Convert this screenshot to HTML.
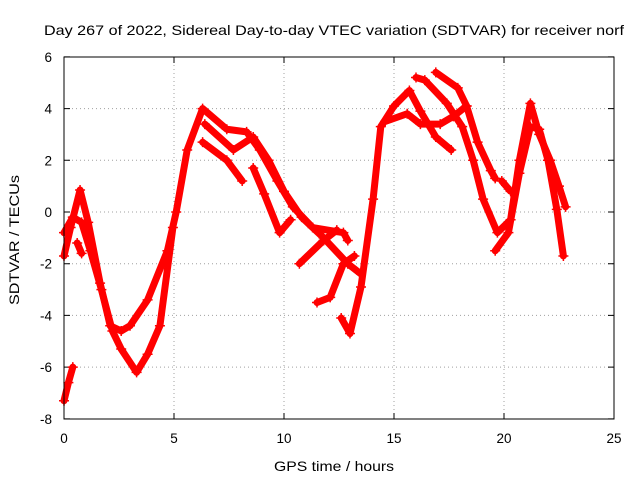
<!DOCTYPE html>
<html><head><meta charset="utf-8"><style>
body{margin:0;background:#fff;}
svg{display:block;font-family:"Liberation Sans",sans-serif;}
</style></head><body>
<svg id="chart" width="640" height="480" viewBox="0 0 640 480">
<text x="334" y="35" font-size="14" text-anchor="middle" textLength="580" lengthAdjust="spacingAndGlyphs">Day 267 of 2022, Sidereal Day-to-day VTEC variation (SDTVAR) for receiver norf</text>
<text x="334" y="471" font-size="14" text-anchor="middle" textLength="120" lengthAdjust="spacingAndGlyphs">GPS time / hours</text>
<text transform="translate(19,240) rotate(-90)" font-size="14" text-anchor="middle" textLength="130" lengthAdjust="spacingAndGlyphs">SDTVAR / TECUs</text>
<g id="grid"></g>
<g id="series"></g>
<rect x="64" y="57" width="550" height="362" fill="none" stroke="#000" stroke-width="1"/>
</svg>
<script>
const xTicks=[0,5,10,15,20,25];
const yTicks=[-8,-6,-4,-2,0,2,4,6];
const arcA=[[0,-1.7],[0.3,-0.6],[0.73,0.85],[1.1,-0.4],[1.64,-2.75],[2.1,-4.4],[2.6,-4.6],[3,-4.4],[3.8,-3.4],[4.7,-1.5],[5.1,0],[5.6,2.4],[6.3,4.0],[7.4,3.2],[8.3,3.1],[8.9,2.4],[9.7,1.2],[10.4,0.2],[11.3,-0.6],[12.7,-0.8],[12.9,-1.1]];
const arcB=[[0,-0.8],[0.4,-0.2],[0.8,-0.4],[1.2,-1.5],[1.7,-3],[2.2,-4.6],[2.6,-5.3],[3.3,-6.2],[3.8,-5.5],[4.36,-4.4],[4.95,-0.6]];
const arcT=[[0.6,-1.2],[0.8,-1.6]];
const arcC=[[0,-7.3],[0.2,-6.6],[0.4,-6]];
const arcD=[[6.3,2.7],[7.4,2.0],[8.1,1.2]];
const arcE=[[6.4,3.4],[7.7,2.4],[8.6,2.9],[9.3,2],[10,0.8],[10.8,-0.2],[11.8,-1],[12.9,-2],[13.5,-2.4]];
const arcF=[[8.6,1.7],[9.1,0.7],[9.8,-0.8],[10.3,-0.3]];
const arcG=[[10.7,-2],[11.8,-1.1],[12.4,-0.7]];
const arcH=[[11.5,-3.5],[12.1,-3.3],[12.7,-2],[13.2,-1.7]];
const arcI=[[12.6,-4.1],[13,-4.7],[13.5,-2.9],[14.05,0.5],[14.4,3.3],[15,4.1],[15.7,4.7],[16.2,3.9],[16.9,2.9],[17.6,2.4]];
const arcJ=[[14.6,3.5],[15.6,3.8],[16.2,3.4],[17.1,3.4],[17.7,3.7],[18.3,4.1]];
const arcK=[[16,5.2],[16.4,5.1],[17.4,4.2],[18.1,3.3],[18.6,2],[19.05,0.5],[19.7,-0.8],[20.3,-0.3],[20.7,2],[21.2,4.2],[21.6,3.0],[22.1,2],[22.5,1],[22.8,0.2]];
const arcL=[[16.9,5.4],[17.9,4.8],[18.3,4.1],[18.8,2.7],[19.4,1.6],[19.6,1.3]];
const arcM=[[19.6,-1.5],[20.2,-0.8],[20.7,1.5],[21.2,3.3],[21.6,3.2],[22,2],[22.4,0.1],[22.7,-1.7]];
const arcN=[[19.9,1.2],[20.3,0.8]];
const arcs=[arcA,arcB,arcT,arcC,arcD,arcE,arcF,arcG,arcH,arcI,arcJ,arcK,arcL,arcM,arcN];
const X=v=>64+v*22, Y=v=>212-v*(362/14);
const NS="http://www.w3.org/2000/svg";
const grid=document.getElementById('grid');
xTicks.forEach(t=>{
  const x=X(t);
  if(t>0&&t<25){const l=document.createElementNS(NS,'line');
  
  
  l.setAttribute('x1',x);l.setAttribute('x2',x);l.setAttribute('y1',57);l.setAttribute('y2',419);
  l.setAttribute('stroke','#a0a0a0');l.setAttribute('stroke-dasharray','1,3');grid.appendChild(l);}
  const tk=document.createElementNS(NS,'path');
  
  
  tk.setAttribute('d',`M${x},419v-6M${x},57v6`);tk.setAttribute('stroke','#000');grid.appendChild(tk);
  const tx=document.createElementNS(NS,'text');
  
  
  tx.setAttribute('x',x);tx.setAttribute('y',443);tx.setAttribute('font-size','13.5');tx.setAttribute('text-anchor','middle');
  tx.textContent=t;grid.appendChild(tx);
});
yTicks.forEach(t=>{
  const y=Y(t);
  if(t>-8&&t<6){const l=document.createElementNS(NS,'line');
  
  
  l.setAttribute('x1',64);l.setAttribute('x2',614);l.setAttribute('y1',y);l.setAttribute('y2',y);
  l.setAttribute('stroke','#a0a0a0');l.setAttribute('stroke-dasharray','1,3');grid.appendChild(l);}
  const tk=document.createElementNS(NS,'path');
  
  
  tk.setAttribute('d',`M64,${y}h6M614,${y}h-6`);tk.setAttribute('stroke','#000');grid.appendChild(tk);
  const tx=document.createElementNS(NS,'text');
  
  
  tx.setAttribute('x',52);tx.setAttribute('y',y+5);tx.setAttribute('font-size','13.5');tx.setAttribute('text-anchor','end');
  tx.textContent=t;grid.appendChild(tx);
});
const sg=document.getElementById('series');
arcs.forEach(a=>{
  const p=document.createElementNS(NS,'polyline');
  
  
  p.setAttribute('points',a.map(d=>X(d[0])+','+Y(d[1])).join(' '));
  p.setAttribute('fill','none');p.setAttribute('stroke','#ff0000');p.setAttribute('stroke-width','7');
  p.setAttribute('stroke-linejoin','round');p.setAttribute('stroke-linecap','round');
  sg.appendChild(p);
  a.forEach(d=>{
    const m=document.createElementNS(NS,'path');
    
    
    const x=X(d[0]),y=Y(d[1]);
    m.setAttribute('d',`M${x-5},${y}h10M${x},${y-5}v10`);
    m.setAttribute('stroke','#ff0000');m.setAttribute('stroke-width','1.5');
    sg.appendChild(m);
  });
});
</script>
</body></html>
